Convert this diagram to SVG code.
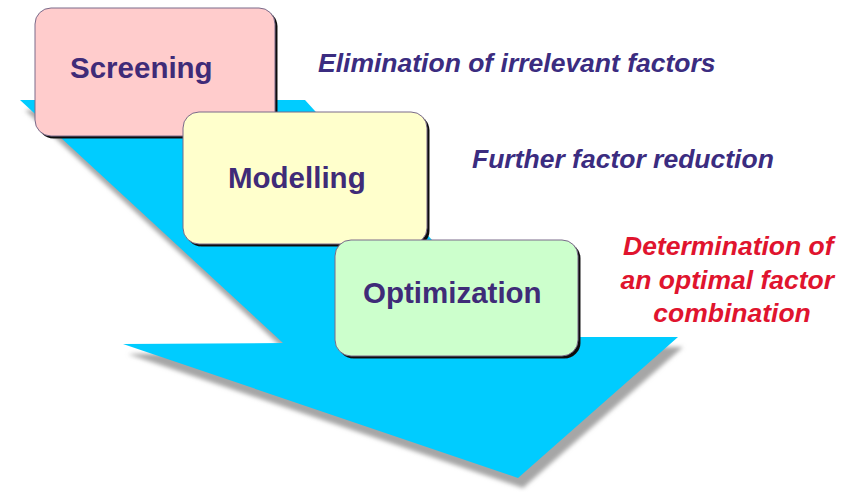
<svg xmlns="http://www.w3.org/2000/svg" width="860" height="492" viewBox="0 0 860 492">
  <defs>
    <filter id="soft" x="-10%" y="-10%" width="120%" height="130%">
      <feGaussianBlur stdDeviation="2.2"/>
    </filter>
    <filter id="boxsh" x="-5%" y="-5%" width="110%" height="115%">
      <feGaussianBlur stdDeviation="0.7"/>
    </filter>
  </defs>
  <style>
    .box { stroke: #7a6a8a; stroke-width: 1; }
    .boxshadow { fill: #111; }
    .title { font-family: "Liberation Sans", Arial, sans-serif; font-weight: bold; font-size: 29.5px; fill: #3f2b78; }
    .note { font-family: "Liberation Sans", Arial, sans-serif; font-weight: bold; font-style: italic; font-size: 26.5px; fill: #3b2c80; }
    .red { font-family: "Liberation Sans", Arial, sans-serif; font-weight: bold; font-style: italic; font-size: 26.5px; fill: #e0142e; text-anchor: middle; }
  </style>
  <rect width="860" height="492" fill="#ffffff"/>

  <g id="arrow">
    <polygon points="20,100 305,100 520,337 678,337 518,478 123,344 283,343" fill="#a6a6a6" transform="translate(5,10)" filter="url(#soft)"/>
    <polygon points="20,100 305,100 520,337 678,337 518,478 123,344 283,343" fill="#00ccff"/>
  </g>

  <g id="screening">
    <rect x="37.5" y="10.5" width="240" height="128" rx="16" class="boxshadow" filter="url(#boxsh)"/>
    <rect x="35" y="8" width="240" height="128" rx="16" fill="#ffcccc" class="box"/>
    <text x="70" y="78" class="title">Screening</text>
  </g>

  <g id="modelling">
    <rect x="185.5" y="114.5" width="244" height="132" rx="16" class="boxshadow" filter="url(#boxsh)"/>
    <rect x="183" y="112" width="244" height="132" rx="16" fill="#ffffcc" class="box"/>
    <text x="228" y="188" class="title">Modelling</text>
  </g>

  <g id="optimization">
    <rect x="337.5" y="242.5" width="243" height="116" rx="16" class="boxshadow" filter="url(#boxsh)"/>
    <rect x="335" y="240" width="243" height="116" rx="16" fill="#ccffcc" class="box"/>
    <text x="363" y="303" class="title">Optimization</text>
  </g>

  <g id="labels">
    <text x="318" y="72" class="note">Elimination of irrelevant factors</text>
    <text x="472" y="168" class="note">Further factor reduction</text>
    <text class="red">
      <tspan x="732" y="255">Determination of</tspan>
      <tspan x="731" y="289">an optimal factor</tspan>
      <tspan x="732" y="322">combination</tspan>
    </text>
  </g>
</svg>
